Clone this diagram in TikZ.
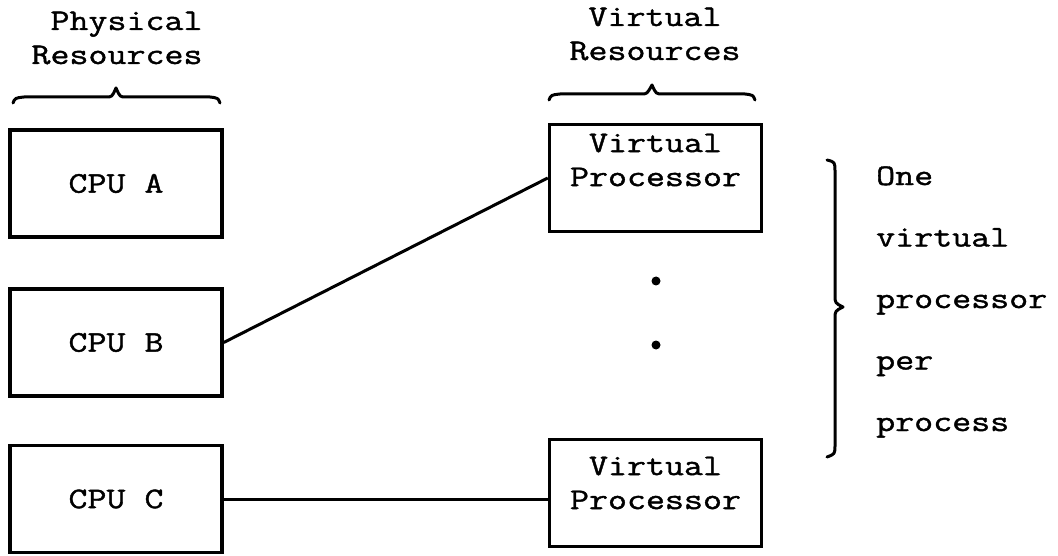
\documentclass[tikz,border=0pt]{standalone}
\usepackage{fontspec}
\newfontfamily\tw{Latin Modern Mono}[FakeStretch=1.23,FakeBold=1.3]
\newcommand\twfont[2]{\tw\fontsize{#1}{#2}\selectfont}
\tikzset{
  tt/.style={font=\twfont{30}{34}, inner sep=0pt},
  box/.style={draw, line width=3.5pt, minimum width=212pt, minimum height=107pt, inner sep=0pt},
  wire/.style={line width=3pt},
  brace/.style={line width=3pt, line cap=round, line join=round},
}
\begin{document}
\begin{tikzpicture}[x=1pt,y=-1pt]
  \useasboundingbox (0,0) rectangle (1058,556);

  % column headings
  \node[tt, align=right] (phys) at (117,38) {Physical\\Resources};
  \node[tt, align=center] (virt) at (655,34) {Virtual\\Resources};

  % heading braces
  \draw[brace] (13,103) .. controls (15,98) .. (24,97) -- (106,97)
    .. controls (112,97) .. (116,88) .. controls (120,97) .. (126,97)
    -- (210,97) .. controls (218,98) .. (220,103);
  \draw[brace] (549,100) .. controls (551,95) .. (560,94) -- (641,94)
    .. controls (647,94) .. (652,85) .. controls (656,94) .. (663,94)
    -- (745,94) .. controls (753,95) .. (755,100);

  % physical processors
  \node[box, tt] (cpua) at (116,183.5) {CPU A};
  \node[box, tt] (cpub) at (116,342.5) {CPU B};
  \node[box, tt] (cpuc) at (116,499) {CPU C};

  % virtual processors
  \node[box] (vp1) at (655.5,178) {};
  \node[tt, align=center] (vp1t) at (655.5,160) {Virtual\\Processor};
  \node[box] (vp2) at (655.5,493) {};
  \node[tt, align=center] (vp2t) at (655.5,483) {Virtual\\Processor};

  % ellipsis between the virtual processors
  \fill (656,281) circle (4.5pt);
  \fill (656,345) circle (4.5pt);

  % bindings
  \draw[wire] (cpub.east) -- (vp1.west);
  \draw[wire] (cpuc.east) -- (cpuc.east -| vp2.west);

  % side brace and note
  \draw[brace] (827,160) .. controls (835,162) .. (835,172) -- (835,295)
    .. controls (835,303) .. (843,307) .. controls (835,311) .. (835,319)
    -- (835,445) .. controls (835,454) .. (827,457);
  \node[tt, align=left, anchor=west, font=\twfont{30}{61.5}] (note) at (876,302)
    {One\\virtual\\processor\\per\\process};
\end{tikzpicture}
\end{document}
